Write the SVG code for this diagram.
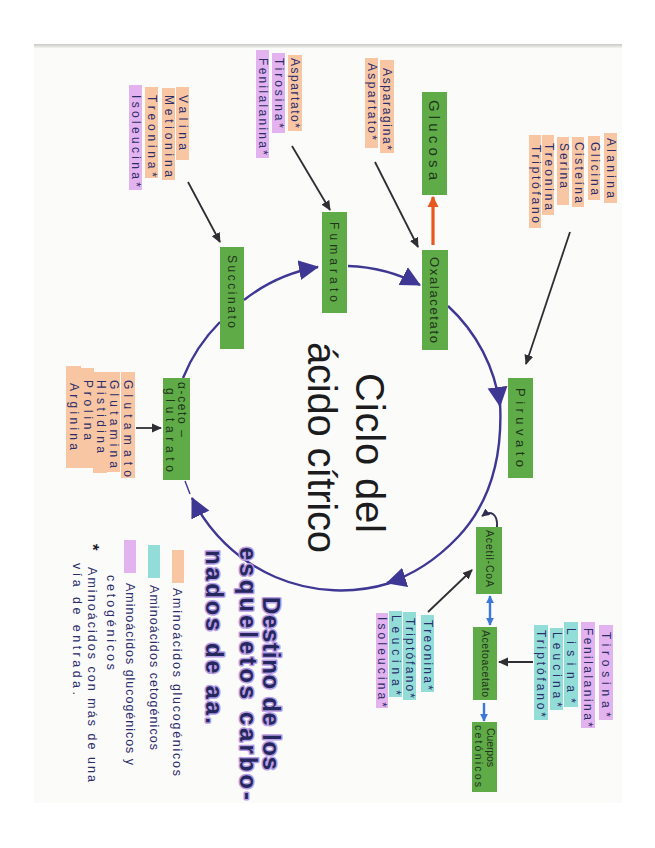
<svg xmlns="http://www.w3.org/2000/svg" width="655" height="848" viewBox="0 0 655 848">
<defs>
<style>
.aa{font-family:"Liberation Sans",Arial,sans-serif;font-size:12px;fill:#2b2d6b}
.lg{font-family:"Liberation Sans",Arial,sans-serif;font-size:12.5px;fill:#2b2d6b}
.bx{font-family:"Liberation Sans",Arial,sans-serif;font-size:12px;fill:#1f351c}
.ttl{font-family:"Liberation Sans",Arial,sans-serif;font-size:40px;fill:#1c1c1e}
.dst{font-family:"Liberation Sans",Arial,sans-serif;font-size:24px;font-weight:bold;fill:#25285e;stroke:#b99de6;stroke-width:3px;paint-order:stroke;stroke-linejoin:round}
.o{fill:#f9c6a4}
.c{fill:#92ddd8}
.p{fill:#e3b3ef}
.g{fill:#5fab48}
.cyc{fill:none;stroke:#3f3794;stroke-width:2.4}
.blk{fill:none;stroke:#2e2e33;stroke-width:1.8}
.blu{fill:none;stroke:#3b78d8;stroke-width:2.4}
</style>
<marker id="mk" viewBox="0 0 10 10" refX="9" refY="5" markerWidth="10" markerHeight="10" markerUnits="userSpaceOnUse" orient="auto"><path d="M0,0.5 L10,5 L0,9.5 z" fill="#2e2e33"/></marker>
<marker id="mc" viewBox="0 0 20 20" refX="19" refY="10" markerWidth="20" markerHeight="21" markerUnits="userSpaceOnUse" orient="auto"><path d="M0,0 L20,10 L0,20 z" fill="#3f3794"/></marker>
<marker id="ms" viewBox="0 0 10 10" refX="9" refY="5" markerWidth="8" markerHeight="8" markerUnits="userSpaceOnUse" orient="auto"><path d="M0,0 L10,5 L0,10 z" fill="#2e2e50"/></marker>
<marker id="mo" viewBox="0 0 10 10" refX="9" refY="5" markerWidth="11" markerHeight="12" markerUnits="userSpaceOnUse" orient="auto"><path d="M0,0 L10,5 L0,10 z" fill="#e8581e"/></marker>
<marker id="mb" viewBox="0 0 10 10" refX="9" refY="5" markerWidth="8" markerHeight="9" markerUnits="userSpaceOnUse" orient="auto-start-reverse"><path d="M0,0 L10,5 L0,10 z" fill="#3b78d8"/></marker>
<linearGradient id="edge" x1="0" y1="0" x2="0" y2="1"><stop offset="0" stop-color="#c9c9c4"/><stop offset="1" stop-color="#f2f2f0"/></linearGradient>
</defs>

<rect width="655" height="848" fill="#ffffff"/>
<rect x="34" y="45" width="588" height="758" fill="#fbfbfa"/>
<rect x="34" y="44" width="588" height="4" fill="url(#edge)"/>

<g id="connectors">
  <path class="cyc" d="M183,378 A168,168 0 0 1 220,322"/>
  <path class="cyc" d="M244,300 A165,165 0 0 1 318,267" marker-end="url(#mc)"/>
  <path class="cyc" d="M348,266 A165,165 0 0 1 420,285" marker-end="url(#mc)"/>
  <path class="cyc" d="M448,306 A165,165 0 0 1 500,406" marker-end="url(#mc)"/>
  <path class="cyc" d="M500,402 C503,458 490,503 458,537 C438,558 416,574 387,583" marker-end="url(#mc)"/>
  <path class="cyc" d="M390,583 A166,166 0 0 1 192,498" marker-end="url(#mc)"/>
  <path class="cyc" d="M190,494 L185,481" style="stroke-width:1.4"/>
  <path d="M497,527 C498,513 490,510 482,516" fill="none" stroke="#2e2e50" stroke-width="2" marker-end="url(#ms)"/>
  <path class="blk" d="M570,232 L526,364" marker-end="url(#mk)"/>
  <path class="blk" d="M375,162 L418,247" marker-end="url(#mk)"/>
  <path class="blk" d="M292,146 L330,210" marker-end="url(#mk)"/>
  <path class="blk" d="M188,182 L220,242" marker-end="url(#mk)"/>
  <path class="blk" d="M136,428 L161,428" marker-end="url(#mk)"/>
  <path class="blk" d="M428,612 L472,570" marker-end="url(#mk)"/>
  <path class="blk" d="M533,662 L499,662" marker-end="url(#mk)"/>
  <path d="M433,245 L433,197" fill="none" stroke="#e8581e" stroke-width="3.2" marker-end="url(#mo)"/>
  <path class="blu" d="M490,596 L490,625" marker-start="url(#mb)" marker-end="url(#mb)"/>
  <path class="blu" d="M484,703 L484,721" marker-end="url(#mb)"/>
</g>

<g id="glucosa"><rect class="g" x="422" y="92" width="25" height="103"/><text class="bx" style="font-size:15px" transform="translate(429,100) rotate(90)" textLength="80" lengthAdjust="spacing">Glucosa</text></g>
<g id="oxalacetato"><rect class="g" x="422" y="250" width="26" height="100"/><text class="bx" style="font-size:13px" transform="translate(430,257) rotate(90)" textLength="86" lengthAdjust="spacing">Oxalacetato</text></g>
<g id="fumarato"><rect class="g" x="322" y="212" width="25" height="101"/><text class="bx" transform="translate(330,222) rotate(90)" textLength="80" lengthAdjust="spacing">Fumarato</text></g>
<g id="succinato"><rect class="g" x="220" y="247" width="24" height="102"/><text class="bx" transform="translate(228,255) rotate(90)" textLength="73" lengthAdjust="spacing">Succinato</text></g>
<g id="alfa-cetoglutarato"><rect class="g" x="163" y="378" width="27" height="102"/><text class="bx" transform="translate(178,382) rotate(90)" textLength="55" lengthAdjust="spacing">α-ceto –</text><text class="bx" transform="translate(166,388) rotate(90)" textLength="84" lengthAdjust="spacing">glutarato</text></g>
<g id="piruvato"><rect class="g" x="508" y="378" width="25" height="100"/><text class="bx" style="font-size:13px" transform="translate(516,388) rotate(90)" textLength="79" lengthAdjust="spacing">Piruvato</text></g>
<g id="acetil-coa"><rect class="g" x="476" y="527" width="26" height="67"/><text class="bx" style="font-size:10.5px" transform="translate(486,530) rotate(90)" textLength="57" lengthAdjust="spacing">Acetil-CoA</text></g>
<g id="acetoacetato"><rect class="g" x="473" y="627" width="24" height="73"/><text class="bx" style="font-size:10.5px" transform="translate(482,630) rotate(90)" textLength="67" lengthAdjust="spacing">Acetoacetato</text></g>
<g id="cuerpos-cetonicos"><rect class="g" x="472" y="722" width="25" height="70"/><text class="bx" style="font-size:10.5px" transform="translate(487,728) rotate(90)" textLength="39" lengthAdjust="spacing">Cuerpos</text><text class="bx" style="font-size:10.5px" transform="translate(475,725) rotate(90)" textLength="62" lengthAdjust="spacing">cetónicos</text></g>

<g id="aa-piruvato">
  <rect class="o" x="604" y="133" width="13" height="70"/><text class="aa" transform="translate(607,138) rotate(90)" textLength="60" lengthAdjust="spacing">Alanina</text>
  <rect class="o" x="588" y="136" width="12" height="64"/><text class="aa" transform="translate(591,142) rotate(90)" textLength="53" lengthAdjust="spacing">Glicina</text>
  <rect class="o" x="572" y="137" width="12" height="70"/><text class="aa" transform="translate(575,142) rotate(90)" textLength="61" lengthAdjust="spacing">Cisteína</text>
  <rect class="o" x="557" y="137" width="12" height="68"/><text class="aa" transform="translate(560,143) rotate(90)" textLength="45" lengthAdjust="spacing">Serina</text>
  <rect class="o" x="542" y="135" width="12" height="80"/><text class="aa" transform="translate(545,143) rotate(90)" textLength="67" lengthAdjust="spacing">Treonina</text>
  <rect class="o" x="529" y="135" width="12" height="93"/><text class="aa" transform="translate(532,145) rotate(90)" textLength="78" lengthAdjust="spacing">Triptófano</text>
</g>
<g id="aa-oxalacetato">
  <rect class="o" x="380" y="60" width="14" height="93"/><text class="aa" transform="translate(383,68) rotate(90)" textLength="82" lengthAdjust="spacing">Asparagina*</text>
  <rect class="o" x="365" y="58" width="13" height="90"/><text class="aa" transform="translate(368,63) rotate(90)" textLength="77" lengthAdjust="spacing">Aspartato*</text>
</g>
<g id="aa-fumarato">
  <rect class="o" x="288" y="55" width="14" height="76"/><text class="aa" transform="translate(291,58) rotate(90)" textLength="70" lengthAdjust="spacing">Aspartato*</text>
  <rect class="p" x="272" y="53" width="13" height="80"/><text class="aa" transform="translate(275,58) rotate(90)" textLength="70" lengthAdjust="spacing">Tirosina*</text>
  <rect class="p" x="256" y="50" width="13" height="108"/><text class="aa" transform="translate(259,58) rotate(90)" textLength="97" lengthAdjust="spacing">Fenilalanina*</text>
</g>
<g id="aa-succinato">
  <rect class="o" x="176" y="87" width="13" height="73"/><text class="aa" transform="translate(179,95) rotate(90)" textLength="55" lengthAdjust="spacing">Valina</text>
  <rect class="o" x="162" y="88" width="13" height="92"/><text class="aa" transform="translate(165,95) rotate(90)" textLength="82" lengthAdjust="spacing">Metionina</text>
  <rect class="o" x="145" y="87" width="13" height="91"/><text class="aa" transform="translate(148,95) rotate(90)" textLength="82" lengthAdjust="spacing">Treonina*</text>
  <rect class="p" x="129" y="85" width="13" height="105"/><text class="aa" transform="translate(132,95) rotate(90)" textLength="92" lengthAdjust="spacing">Isoleucina*</text>
</g>
<g id="aa-cetoglutarato">
  <rect class="o" x="121" y="372" width="14" height="106"/><text class="aa" transform="translate(124,380) rotate(90)" textLength="97" lengthAdjust="spacing">Glutamato</text>
  <rect class="o" x="107" y="372" width="13" height="100"/><text class="aa" transform="translate(110,380) rotate(90)" textLength="88" lengthAdjust="spacing">Glutamina</text>
  <rect class="o" x="93" y="372" width="14" height="101"/><text class="aa" transform="translate(97,380) rotate(90)" textLength="73" lengthAdjust="spacing">Histidina</text>
  <rect class="o" x="80" y="368" width="14" height="100"/><text class="aa" transform="translate(84,380) rotate(90)" textLength="60" lengthAdjust="spacing">Prolina</text>
  <rect class="o" x="66" y="366" width="15" height="102"/><text class="aa" transform="translate(70,383) rotate(90)" textLength="67" lengthAdjust="spacing">Arginina</text>
</g>
<g id="aa-acetilcoa">
  <rect class="c" x="421" y="615" width="13" height="77"/><text class="aa" transform="translate(424,620) rotate(90)" textLength="70" lengthAdjust="spacing">Treonina*</text>
  <rect class="c" x="403" y="612" width="13" height="88"/><text class="aa" transform="translate(406,618) rotate(90)" textLength="80" lengthAdjust="spacing">Triptófano*</text>
  <rect class="c" x="389" y="611" width="13" height="86"/><text class="aa" transform="translate(392,615) rotate(90)" textLength="80" lengthAdjust="spacing">Leucina*</text>
  <rect class="p" x="376" y="613" width="12" height="95"/><text class="aa" transform="translate(378,617) rotate(90)" textLength="90" lengthAdjust="spacing">Isoleucina*</text>
</g>
<g id="aa-acetoacetato">
  <rect class="p" x="599" y="625" width="14" height="95"/><text class="aa" transform="translate(602,632) rotate(90)" textLength="85" lengthAdjust="spacing">Tirosina*</text>
  <rect class="p" x="581" y="622" width="14" height="106"/><text class="aa" transform="translate(584,628) rotate(90)" textLength="99" lengthAdjust="spacing">Fenilalanina*</text>
  <rect class="c" x="564" y="622" width="14" height="85"/><text class="aa" transform="translate(567,628) rotate(90)" textLength="75" lengthAdjust="spacing">Lisina*</text>
  <rect class="c" x="550" y="628" width="13" height="82"/><text class="aa" transform="translate(553,632) rotate(90)" textLength="75" lengthAdjust="spacing">Leucina*</text>
  <rect class="c" x="534" y="625" width="14" height="95"/><text class="aa" transform="translate(537,630) rotate(90)" textLength="87" lengthAdjust="spacing">Triptófano*</text>
</g>

<g id="title">
  <text class="ttl" transform="translate(356,373) rotate(90)" textLength="160" lengthAdjust="spacing">Ciclo del</text>
  <text class="ttl" transform="translate(308,342) rotate(90)" textLength="211" lengthAdjust="spacing">ácido cítrico</text>
</g>
<g id="subtitle">
  <text class="dst" transform="translate(263,597) rotate(90)" textLength="173" lengthAdjust="spacing">Destino de los</text>
  <text class="dst" transform="translate(240,547) rotate(90)" textLength="253" lengthAdjust="spacing">esqueletos carbo-</text>
  <text class="dst" transform="translate(206,550) rotate(90)" textLength="174" lengthAdjust="spacing">nados de aa.</text>
</g>
<g id="legend">
  <rect class="o" x="172" y="550" width="12" height="33"/>
  <text class="lg" transform="translate(173,588) rotate(90)" textLength="188" lengthAdjust="spacing">Aminoácidos glucogénicos</text>
  <rect class="c" x="148" y="545" width="12" height="33"/>
  <text class="lg" transform="translate(150,585) rotate(90)" textLength="165" lengthAdjust="spacing">Aminoácidos cetogénicos</text>
  <rect class="p" x="124" y="540" width="12" height="33"/>
  <text class="lg" transform="translate(126,583) rotate(90)" textLength="182" lengthAdjust="spacing">Aminoácidos glucogénicos y</text>
  <text class="lg" transform="translate(107,575) rotate(90)" textLength="95" lengthAdjust="spacing">cetogénicos</text>
  <text class="lg" style="font-size:17px;font-weight:bold;fill:#1c1c2e" transform="translate(87,544) rotate(90)">*</text>
  <text class="lg" transform="translate(88,567) rotate(90)" textLength="215" lengthAdjust="spacing">Aminoácidos con más de una</text>
  <text class="lg" transform="translate(73,563) rotate(90)" textLength="132" lengthAdjust="spacing">vía de entrada.</text>
</g>
</svg>
